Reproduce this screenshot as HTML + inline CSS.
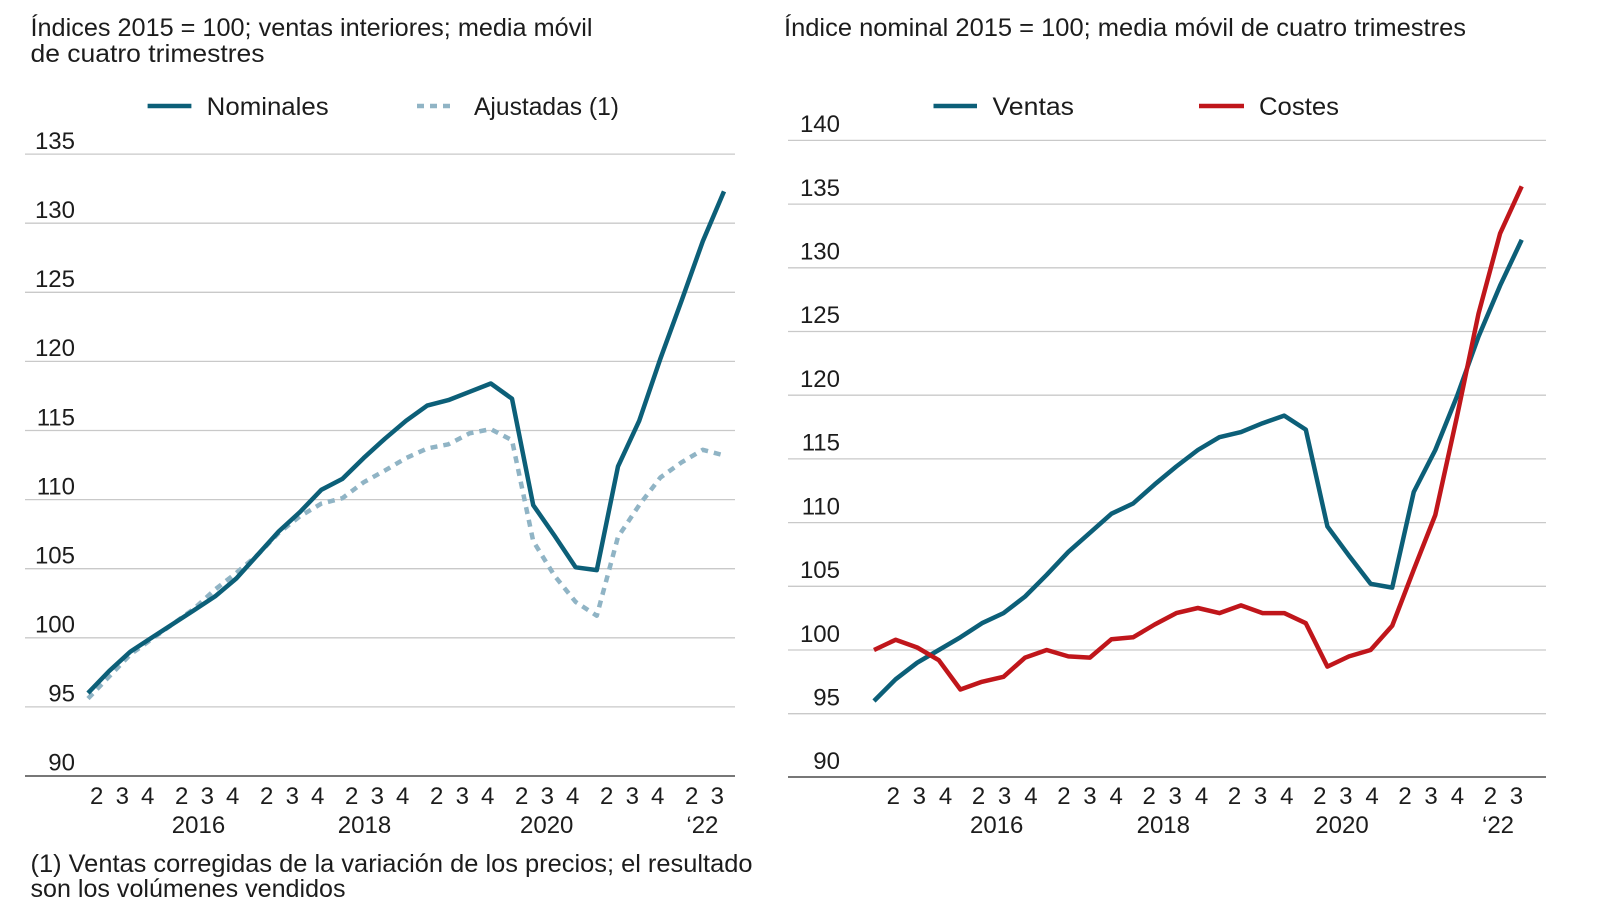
<!DOCTYPE html>
<html>
<head>
<meta charset="utf-8">
<style>
  html,body{margin:0;padding:0;background:#fff;}
  svg{display:block;}
  text{font-family:"Liberation Sans",sans-serif;fill:#1c1c1c;}
</style>
</head>
<body>
<svg width="1599" height="900" viewBox="0 0 1599 900" xmlns="http://www.w3.org/2000/svg">
  <rect width="1599" height="900" fill="#fff"/>

  <!-- cut-off top titles -->
  <text x="30" y="-5" font-size="25" fill="#666" textLength="630" lengthAdjust="spacingAndGlyphs">Ventas nominales y ajustadas de las empresas</text>
  <text x="775" y="-5" font-size="25" fill="#666" textLength="785" lengthAdjust="spacingAndGlyphs">Ventas nominales y costes de las empresas industriales</text>

  <!-- subtitles -->
  <text x="30.5" y="36" font-size="25" textLength="562" lengthAdjust="spacingAndGlyphs">Índices 2015 = 100; ventas interiores; media móvil</text>
  <text x="30.5" y="62" font-size="25" textLength="234" lengthAdjust="spacingAndGlyphs">de cuatro trimestres</text>
  <text x="784" y="36" font-size="25" textLength="682" lengthAdjust="spacingAndGlyphs">Índice nominal 2015 = 100; media móvil de cuatro trimestres</text>

  <!-- legends -->
  <line x1="147.6" y1="106" x2="191.4" y2="106" stroke="#0c5f78" stroke-width="4.5"/>
  <text x="206.7" y="115" font-size="25" textLength="122" lengthAdjust="spacingAndGlyphs">Nominales</text>
  <line x1="417" y1="106" x2="456" y2="106" stroke="#90b4c5" stroke-width="4.5" stroke-dasharray="7 6"/>
  <text x="474" y="115" font-size="25" textLength="145" lengthAdjust="spacingAndGlyphs">Ajustadas (1)</text>

  <line x1="933.5" y1="106" x2="977" y2="106" stroke="#0c5f78" stroke-width="4.5"/>
  <text x="992.5" y="115" font-size="25" textLength="81.5" lengthAdjust="spacingAndGlyphs">Ventas</text>
  <line x1="1199" y1="106" x2="1244" y2="106" stroke="#c0161b" stroke-width="4.5"/>
  <text x="1259" y="115" font-size="25" textLength="80" lengthAdjust="spacingAndGlyphs">Costes</text>

  <!-- LEFT CHART gridlines -->
  <g stroke="#c9c9c9" stroke-width="1.3">
    <line x1="25" x2="735" y1="154.1" y2="154.1"/>
    <line x1="25" x2="735" y1="223.2" y2="223.2"/>
    <line x1="25" x2="735" y1="292.3" y2="292.3"/>
    <line x1="25" x2="735" y1="361.4" y2="361.4"/>
    <line x1="25" x2="735" y1="430.5" y2="430.5"/>
    <line x1="25" x2="735" y1="499.6" y2="499.6"/>
    <line x1="25" x2="735" y1="568.7" y2="568.7"/>
    <line x1="25" x2="735" y1="637.8" y2="637.8"/>
    <line x1="25" x2="735" y1="706.9" y2="706.9"/>
  </g>
  <line x1="25" x2="735" y1="776" y2="776" stroke="#4a4a4a" stroke-width="1.6"/>
  <g font-size="24" text-anchor="end">
    <text x="75" y="149">135</text>
    <text x="75" y="218">130</text>
    <text x="75" y="287">125</text>
    <text x="75" y="356">120</text>
    <text x="75" y="425.5">115</text>
    <text x="75" y="494.5">110</text>
    <text x="75" y="563.5">105</text>
    <text x="75" y="632.5">100</text>
    <text x="75" y="701.5">95</text>
    <text x="75" y="770.5">90</text>
  </g>

  <!-- left x labels -->
  <g font-size="24" text-anchor="middle">
    <text x="96.7" y="804">2</text><text x="122.3" y="804">3</text><text x="147.7" y="804">4</text>
    <text x="181.7" y="804">2</text><text x="207.3" y="804">3</text><text x="232.7" y="804">4</text>
    <text x="266.7" y="804">2</text><text x="292.3" y="804">3</text><text x="317.7" y="804">4</text>
    <text x="351.7" y="804">2</text><text x="377.3" y="804">3</text><text x="402.7" y="804">4</text>
    <text x="436.7" y="804">2</text><text x="462.3" y="804">3</text><text x="487.7" y="804">4</text>
    <text x="521.7" y="804">2</text><text x="547.3" y="804">3</text><text x="572.7" y="804">4</text>
    <text x="606.7" y="804">2</text><text x="632.3" y="804">3</text><text x="657.7" y="804">4</text>
    <text x="691.7" y="804">2</text><text x="717.3" y="804">3</text>
    <text x="198.5" y="833">2016</text>
    <text x="364.5" y="833">2018</text>
    <text x="546.7" y="833">2020</text>
    <text x="702.4" y="833">‘22</text>
  </g>

  <!-- left series -->
  <polyline fill="none" stroke="#90b4c5" stroke-width="4.5" stroke-dasharray="7 6" stroke-linejoin="round"
    points="88,698.6 109.2,676.5 130.4,654.4 151.6,639.2 172.8,624.0 194,608.8 215.2,589.4 236.4,572.8 257.6,554.9 278.8,532.8 300,516.2 321.2,503.7 342.4,498.2 363.6,482.3 384.8,470.6 406,458.1 427.2,448.5 448.4,444.3 469.6,433.3 490.8,429.1 512,440.2 533.2,541.1 554.4,575.6 575.6,601.9 596.8,615.7 618,536.9 639.2,505.1 660.4,477.5 681.6,462.3 702.8,449.8 724,455.4"/>
  <polyline fill="none" stroke="#0c5f78" stroke-width="4.5" stroke-linejoin="round"
    points="88,693.1 109.2,671.0 130.4,651.6 151.6,637.8 172.8,624.0 194,610.2 215.2,596.3 236.4,578.4 257.6,554.9 278.8,531.4 300,512.0 321.2,489.9 342.4,478.9 363.6,458.1 384.8,438.8 406,420.8 427.2,405.6 448.4,400.1 469.6,391.8 490.8,383.5 512,398.7 533.2,505.1 554.4,535.5 575.6,567.3 596.8,570.1 618,466.4 639.2,420.8 660.4,358.6 681.6,300.6 702.8,241.2 724,191.4"/>

  <!-- footnote -->
  <text x="30.5" y="872" font-size="25" textLength="722" lengthAdjust="spacingAndGlyphs">(1) Ventas corregidas de la variación de los precios; el resultado</text>
  <text x="30.5" y="897" font-size="25" textLength="315" lengthAdjust="spacingAndGlyphs">son los volúmenes vendidos</text>

  <!-- RIGHT CHART gridlines -->
  <g stroke="#c9c9c9" stroke-width="1.3">
    <line x1="788" x2="1546" y1="140.4" y2="140.4"/>
    <line x1="788" x2="1546" y1="204.1" y2="204.1"/>
    <line x1="788" x2="1546" y1="267.8" y2="267.8"/>
    <line x1="788" x2="1546" y1="331.5" y2="331.5"/>
    <line x1="788" x2="1546" y1="395.2" y2="395.2"/>
    <line x1="788" x2="1546" y1="458.9" y2="458.9"/>
    <line x1="788" x2="1546" y1="522.6" y2="522.6"/>
    <line x1="788" x2="1546" y1="586.3" y2="586.3"/>
    <line x1="788" x2="1546" y1="650.0" y2="650.0"/>
    <line x1="788" x2="1546" y1="713.7" y2="713.7"/>
  </g>
  <line x1="788" x2="1546" y1="777" y2="777" stroke="#4a4a4a" stroke-width="1.6"/>
  <g font-size="24" text-anchor="end">
    <text x="840" y="132">140</text>
    <text x="840" y="196">135</text>
    <text x="840" y="259.5">130</text>
    <text x="840" y="323">125</text>
    <text x="840" y="387">120</text>
    <text x="840" y="450.5">115</text>
    <text x="840" y="514.5">110</text>
    <text x="840" y="578">105</text>
    <text x="840" y="642">100</text>
    <text x="840" y="705.5">95</text>
    <text x="840" y="769">90</text>
  </g>

  <!-- right x labels -->
  <g font-size="24" text-anchor="middle">
    <text x="893.3" y="804">2</text><text x="919.3" y="804">3</text><text x="945.6" y="804">4</text>
    <text x="978.6" y="804">2</text><text x="1004.6" y="804">3</text><text x="1030.9" y="804">4</text>
    <text x="1063.9" y="804">2</text><text x="1089.9" y="804">3</text><text x="1116.2" y="804">4</text>
    <text x="1149.2" y="804">2</text><text x="1175.2" y="804">3</text><text x="1201.5" y="804">4</text>
    <text x="1234.5" y="804">2</text><text x="1260.5" y="804">3</text><text x="1286.8" y="804">4</text>
    <text x="1319.8" y="804">2</text><text x="1345.8" y="804">3</text><text x="1372.1" y="804">4</text>
    <text x="1405.1" y="804">2</text><text x="1431.1" y="804">3</text><text x="1457.4" y="804">4</text>
    <text x="1490.4" y="804">2</text><text x="1516.4" y="804">3</text>
    <text x="996.7" y="833">2016</text>
    <text x="1163.3" y="833">2018</text>
    <text x="1342" y="833">2020</text>
    <text x="1498" y="833">‘22</text>
  </g>

  <!-- right series -->
  <polyline fill="none" stroke="#0c5f78" stroke-width="4.5" stroke-linejoin="round"
    points="874,701.0 895.6,679.3 917.2,662.7 938.8,650.0 960.4,637.3 981.95,623.2 1003.5,613.1 1025.1,596.5 1046.7,574.8 1068.3,551.9 1089.9,532.8 1111.5,513.7 1133.1,503.5 1154.7,484.4 1176.3,466.5 1197.85,450.0 1219.4,437.2 1241,432.1 1262.6,423.2 1284.2,415.6 1305.8,429.6 1327.4,526.4 1349,555.7 1370.6,583.8 1392.2,587.6 1413.75,492.0 1435.3,450.0 1456.9,396.5 1478.5,336.6 1500.1,285.6 1521.7,239.8"/>
  <polyline fill="none" stroke="#c0161b" stroke-width="4.5" stroke-linejoin="round"
    points="874,650.0 895.6,639.8 917.2,647.5 938.8,660.2 960.4,689.5 981.95,681.8 1003.5,676.8 1025.1,657.6 1046.7,650.0 1068.3,656.4 1089.9,657.6 1111.5,639.2 1133.1,637.3 1154.7,624.5 1176.3,613.1 1197.85,608.0 1219.4,613.1 1241,605.4 1262.6,613.1 1284.2,613.1 1305.8,623.2 1327.4,666.6 1349,656.4 1370.6,650.0 1392.2,625.8 1413.75,569.7 1435.3,515.0 1456.9,416.9 1478.5,313.7 1500.1,233.4 1521.7,186.3"/>
</svg>
</body>
</html>
